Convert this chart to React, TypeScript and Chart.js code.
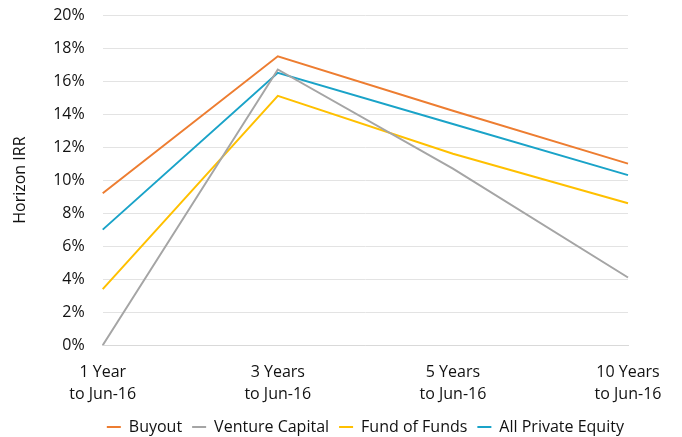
import React, { useEffect, useRef } from "react";
import { Chart, registerables } from "chart.js";

Chart.register(...registerables);

const categories: string[][] = [
  ["1 Year", "to Jun-16"],
  ["3 Years", "to Jun-16"],
  ["5 Years", "to Jun-16"],
  ["10 Years", "to Jun-16"],
];

const buyout = [9.2, 17.5, 14.2, 11.0];
const ventureCapital = [0.0, 16.7, 10.7, 4.1];
const fundOfFunds = [3.4, 15.1, 11.6, 8.6];
const allPrivateEquity = [7.0, 16.5, 13.4, 10.3];

const FONT = "'Open Sans', sans-serif";

// Center the legend under the plot area (as in the reference) rather than the whole canvas.
const centerLegendOnPlot = {
  id: "centerLegendOnPlot",
  afterLayout(chart: any) {
    const lg = chart.legend;
    const ca = chart.chartArea;
    if (!lg || !ca) return;
    const cx = (ca.left + ca.right) / 2;
    const w = lg.width;
    lg.left = cx - w / 2;
    lg.right = cx + w / 2;
  },
};

export default function App() {
  const ref = useRef<HTMLCanvasElement | null>(null);

  useEffect(() => {
    if (!ref.current) return;
    const mk = (label: string, data: number[], color: string) => ({
      label,
      data,
      borderColor: color,
      backgroundColor: color,
      borderWidth: 2,
      pointRadius: 0,
      pointHoverRadius: 0,
      tension: 0,
      fill: false,
    });
    const chart = new Chart(ref.current, {
      type: "line",
      data: {
        labels: categories,
        datasets: [
          mk("Buyout", buyout, "#ED7D31"),
          mk("Venture Capital", ventureCapital, "#A5A5A5"),
          mk("Fund of Funds", fundOfFunds, "#FFC000"),
          mk("All Private Equity", allPrivateEquity, "#1AA3C8"),
        ],
      },
      plugins: [centerLegendOnPlot],
      options: {
        animation: false,
        responsive: false,
        maintainAspectRatio: false,
        layout: { padding: { top: 15, left: 11, right: 54, bottom: -8 } },
        plugins: {
          tooltip: { enabled: false },
          legend: {
            position: "bottom",
            labels: {
              usePointStyle: true,
              pointStyle: "line",
              pointStyleWidth: 14,
              padding: 10,
              color: "#111",
              font: { family: FONT, size: 16 },
            },
          },
        },
        scales: {
          x: {
            offset: false,
            grid: { display: false, drawTicks: true, tickLength: 13, tickColor: "rgba(0,0,0,0)" },
            border: { display: true, color: "#D9D9D9", width: 1 },
            ticks: {
              color: "#111",
              padding: 3,
              maxRotation: 0,
              autoSkip: false,
              font: { family: FONT, size: 16, lineHeight: 1.4 },
            },
          },
          y: {
            min: 0,
            max: 20,
            grid: {
              color: "#E3E3E3",
              lineWidth: 1,
              drawTicks: true,
              tickLength: 15,
              tickColor: "rgba(0,0,0,0)",
            },
            border: { display: false },
            ticks: {
              stepSize: 2,
              padding: 3,
              color: "#111",
              font: { family: FONT, size: 16, lineHeight: 1 },
              callback: (v: any) => `${v}%`,
            },
            title: {
              display: true,
              text: "Horizon IRR",
              color: "#111",
              padding: { top: 0, bottom: 20 },
              font: { family: FONT, size: 16 },
            },
          },
        },
      },
    });
    return () => chart.destroy();
  }, []);

  return (
    <div style={{ position: "fixed", left: 0, top: 0, width: 682, height: 437, background: "#fff" }}>
      <canvas ref={ref} width={682} height={437} style={{ display: "block" }} />
    </div>
  );
}
